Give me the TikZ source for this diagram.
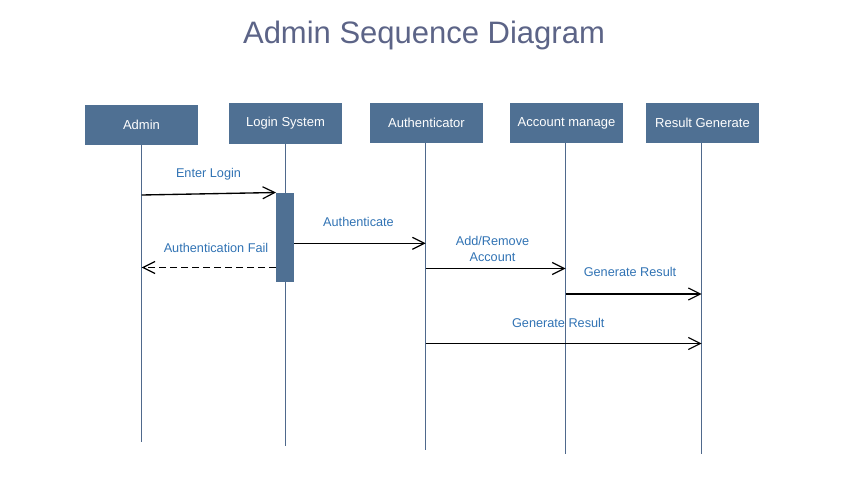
\documentclass[tikz,border=0pt]{standalone}
\usepackage{fontspec}
\setmainfont{Liberation Sans}
\usetikzlibrary{arrows.meta}
\definecolor{boxfill}{RGB}{79,112,147}
\definecolor{titlecol}{RGB}{92,100,135}
\definecolor{labelcol}{RGB}{49,115,180}
\definecolor{linecol}{RGB}{79,105,140}
\tikzset{
  actor/.style={fill=boxfill, draw=none, text=white, minimum width=113pt, minimum height=40pt, inner sep=0pt, font=\fontsize{13}{15}\selectfont},
  lifeline/.style={draw=linecol, line width=1pt},
  msg/.style={draw=black, line width=1.35pt, -{Straight Barb[length=12pt,width=12pt,line width=1.2pt]}},
  reply/.style={msg, dash pattern=on 7pt off 4pt},
  lbl/.style={text=labelcol, inner sep=0pt, font=\fontsize{12.7}{16}\selectfont, align=center},
  activation/.style={fill=boxfill, draw=none, minimum width=18pt, minimum height=89pt, inner sep=0pt}
}
\begin{document}
\begin{tikzpicture}[x=1pt,y=-1pt]
\useasboundingbox (0,0) rectangle (859,487);
\node[text=titlecol, font=\fontsize{31}{36}\selectfont, inner sep=0pt] (title) at (424,35) {Admin Sequence Diagram};
% actors
\node[actor] (admin) at (141.5,125) {Admin};
\node[actor, minimum height=41pt] (login) at (285.5,123.5) {Login System};
\node[actor] (auth) at (426.5,123) {Authenticator};
\node[actor] (acct) at (566.5,123) {Account manage};
\node[actor] (res) at (702.5,123) {Result Generate};
% lifeline ends
\coordinate (adminEnd) at (141.7,441.7);
\coordinate (loginEnd) at (285.5,446);
\coordinate (authEnd) at (425.7,450);
\coordinate (acctEnd) at (565.5,454);
\coordinate (resEnd) at (701.7,454);
\draw[lifeline] (admin.south -| adminEnd) -- (adminEnd);
\draw[lifeline] (login.south -| loginEnd) -- (loginEnd);
\draw[lifeline] (auth.south -| authEnd) -- (authEnd);
\draw[lifeline] (acct.south -| acctEnd) -- (acctEnd);
\draw[lifeline] (res.south -| resEnd) -- (resEnd);
% activation
\node[activation] (act) at (285,237.2) {};
% message points
\coordinate (m1s) at (141.7,195);
\coordinate (m1e) at (276,192.5);
\coordinate (m2e) at (425.7,243.3);
\coordinate (m3s) at (276,267.5);
\coordinate (m3e) at (141.7,267.5);
\coordinate (m4s) at (425.7,268.5);
\coordinate (m4e) at (565.5,268.5);
\coordinate (m5s) at (565.5,294);
\coordinate (m5e) at (701.7,294);
\coordinate (m6s) at (425.7,343.5);
\coordinate (m6e) at (701.7,343.5);
\draw[msg] (m1s) -- (m1e);
\draw[msg] (act.east |- m2e) -- (m2e);
\draw[reply] (m3s) -- (m3e);
\draw[msg] (m4s) -- (m4e);
\draw[msg] (m5s) -- (m5e);
\draw[msg] (m6s) -- (m6e);
% labels
\node[lbl] (l1) at (208.5,174) {Enter Login};
\node[lbl] (l2) at (358.5,222.3) {Authenticate};
\node[lbl] (l3) at (216,248.3) {Authentication Fail};
\node[lbl] (l4) at (492.5,248.7) {Add/Remove\\Account};
\node[lbl] (l5) at (630,272.3) {Generate Result};
\node[lbl] (l6) at (558.3,322.7) {Generate Result};
\end{tikzpicture}
\end{document}
